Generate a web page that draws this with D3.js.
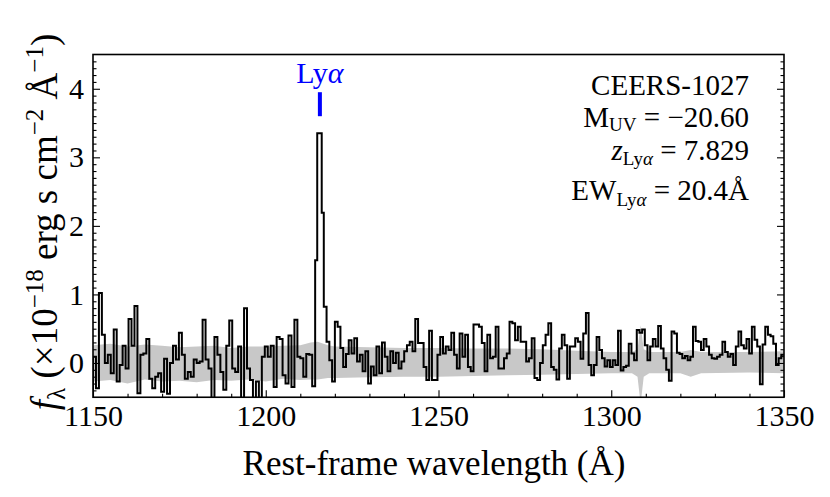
<!DOCTYPE html>
<html><head><meta charset="utf-8">
<script src="https://cdn.jsdelivr.net/npm/d3@7"></script>
<style>
body{margin:0;background:#fff}
svg text{font-family:"Liberation Serif","Times New Roman",serif !important;fill:#000}
</style>
</head><body>
<svg id="c" width="830" height="497"></svg>
<script>
// ---- data ----
const xTicks = [1150, 1200, 1250, 1300, 1350];
const yTicks = [0, 1, 2, 3, 4];
const xDomain = [1150, 1350];
const yDomain = [-0.5, 4.5];

// blue side of Lya: evenly spaced bins between rangeA
const rangeA = [1150.0, 1214.3];
const fluxA = [0.09,-0.37,1.02,0.41,0.00,0.12,-0.15,0.49,-0.27,-0.03,
  0.25,-0.08,0.64,0.25,0.83,-0.44,0.12,0.14,0.35,-0.23,
  -0.37,-0.20,-0.15,-0.42,0.06,-0.45,0.00,0.25,0.05,0.44,
  0.12,-0.23,-0.13,-0.20,0.05,0.00,0.02,0.63,0.05,-0.08,
  -0.55,0.38,0.12,-0.13,-0.39,0.25,0.62,-0.08,-0.13,0.24,
  -0.55,0.80,-0.08,-0.25,-0.55,-0.27,-0.55,0.09,0.24,0.09,
  0.25,-0.35,0.38,0.35,-0.18,-0.30,0.40,-0.35,0.63,0.09,
  0.07,-0.20,0.13,0.12,-0.34];

// Lya line bins (edges given explicitly)
const edgesPeak = [1214.3, 1214.9, 1216.2, 1216.8];
const fluxPeak = [1.50, 3.35, 2.19];

// red side, part 1
const rangeB = [1216.8, 1282.6];
const fluxB = [0.82,0.31,0.04,-0.27,0.60,0.53,0.22,-0.06,0.13,0.33,
  0.14,0.36,0.02,0.12,-0.12,0.17,-0.30,-0.05,-0.18,0.24,
  -0.15,0.30,0.09,-0.12,0.17,0.00,0.15,-0.08,0.02,0.17,
  0.26,0.31,0.17,0.64,0.29,0.29,-0.06,-0.25,0.47,-0.25,
  -0.25,0.12,0.38,0.14,0.24,0.19,0.44,0.12,-0.08,0.43,
  0.09,0.41,-0.06,-0.12,0.56,0.56,0.53,0.29,-0.12,0.41,
  0.07,0.09,0.53,-0.08,-0.08,0.07,0.14,0.60,0.58,0.33,
  0.53,0.31,0.31,0.02,0.07,0.36,-0.22,-0.25,0.00,0.26,
  0.41,0.58];

// red side, part 2
const rangeC = [1282.6, 1350.0];
const fluxC = [-0.06,-0.10,-0.24,0.21,0.41,0.26,-0.23,0.24,0.24,0.36,
  0.31,0.06,0.43,0.73,-0.03,-0.18,-0.03,0.38,0.19,0.07,
  -0.05,0.04,-0.06,0.04,-0.03,0.47,-0.11,-0.06,-0.04,0.28,
  0.14,0.04,0.48,0.44,0.49,0.26,0.04,0.24,0.35,0.24,
  0.54,0.21,0.07,-0.10,-0.26,0.46,0.43,0.15,0.13,0.07,
  0.10,0.04,0.09,0.53,0.32,0.31,0.19,0.35,0.24,0.12,
  0.07,0.06,0.09,0.12,0.31,0.16,0.09,0.13,-0.03,0.24,
  0.46,0.26,0.21,0.35,0.14,0.53,0.34,0.24,-0.31,0.27,
  0.53,0.41,0.39,0.28,-0.03,0.07,0.12];

// 1-sigma error band nodes
const errLam = [1150,1155,1160,1165,1170,1175,1180,1185,1190,1195,1200,1205,1210,1213,1215,1218,1220,1230,1240,1250,1260,1270,1280,1290,1300,1306,1307.6,1308.5,1309.4,1311,1320,1323,1326,1340,1350];
const errLo  = [-0.27,-0.25,-0.30,-0.24,-0.27,-0.26,-0.28,-0.25,-0.26,-0.24,-0.27,-0.23,-0.25,-0.24,-0.24,-0.22,-0.22,-0.21,-0.20,-0.20,-0.19,-0.18,-0.17,-0.16,-0.15,-0.15,-0.20,-0.60,-0.20,-0.15,-0.15,-0.20,-0.15,-0.14,-0.15];
const errHi  = [0.26,0.28,0.24,0.27,0.25,0.23,0.24,0.25,0.22,0.24,0.24,0.25,0.26,0.30,0.31,0.26,0.24,0.23,0.22,0.22,0.21,0.21,0.20,0.18,0.16,0.16,0.20,0.55,0.20,0.16,0.16,0.19,0.16,0.16,0.17];

const lyaLam = 1215.67;
const lyaBar = [3.6, 3.95];

// ---- drawing ----
const M = {l: 93, r: 784, t: 54.5, b: 397.25};
const svg = d3.select('#c');
const x = d3.scaleLinear().domain(xDomain).range([M.l, M.r]);
const y = d3.scaleLinear().domain(yDomain).range([M.b, M.t]);
const FONT = '"Liberation Serif","Times New Roman",serif';

svg.append('defs').append('clipPath').attr('id','clip')
  .append('rect').attr('x',M.l).attr('y',M.t).attr('width',M.r-M.l).attr('height',M.b-M.t);

// build bins
const bins = [];
function addEven(range, vals){
  const dw = (range[1]-range[0])/vals.length;
  vals.forEach((v,i)=>bins.push({x0:range[0]+i*dw, x1:range[0]+(i+1)*dw, v}));
}
addEven(rangeA, fluxA);
fluxPeak.forEach((v,i)=>bins.push({x0:edgesPeak[i], x1:edgesPeak[i+1], v}));
addEven(rangeB, fluxB);
addEven(rangeC, fluxC);
const pts = [];
pts.push([bins[0].x0, -1]);
bins.forEach(b=>{pts.push([b.x0,b.v]); pts.push([b.x1,b.v]);});

const g = svg.append('g').attr('clip-path','url(#clip)');
const errData = errLam.map((l,i)=>({l, lo:errLo[i], hi:errHi[i]}));
g.append('path').datum(errData)
  .attr('d', d3.area().x(d=>x(d.l)).y0(d=>y(d.lo)).y1(d=>y(d.hi)))
  .attr('fill','#c8c8c8').attr('stroke','none');
g.append('path').datum(pts)
  .attr('d', d3.line().x(d=>x(d[0])).y(d=>y(d[1])))
  .attr('fill','none').attr('stroke','#000').attr('stroke-width',2).attr('stroke-linejoin','miter');

// axes
const fontTick = 30;
const xMinor = d3.range(1150,1351,10).filter(v=>v%50!==0);
const yMinor = d3.range(-4,45,1).map(v=>v/10).filter(v=>Math.abs(v-Math.round(v))>1e-6);

function styleAxis(sel){
  sel.attr('font-family', FONT);
  sel.select('.domain').remove();
  sel.selectAll('line').attr('stroke','#000').attr('stroke-width',1.1);
  sel.selectAll('text').style('font-size',fontTick+'px').attr('fill','#000');
}
svg.append('g').attr('transform',`translate(0,${M.b})`)
  .call(d3.axisBottom(x).tickValues(xTicks).tickSizeInner(-7).tickSizeOuter(0).tickPadding(7).tickFormat(d3.format('d')))
  .call(styleAxis);
svg.append('g').attr('transform',`translate(0,${M.b})`)
  .call(d3.axisBottom(x).tickValues(xMinor).tickSizeInner(-3.5).tickSizeOuter(0).tickFormat(''))
  .call(styleAxis);
svg.append('g').attr('transform',`translate(${M.l},0)`)
  .call(d3.axisLeft(y).tickValues(yTicks).tickSizeInner(-7).tickSizeOuter(0).tickPadding(9).tickFormat(d3.format('d')))
  .call(styleAxis);
svg.append('g').attr('transform',`translate(${M.l},0)`)
  .call(d3.axisLeft(y).tickValues(yMinor).tickSizeInner(-3.5).tickSizeOuter(0).tickFormat(''))
  .call(styleAxis);
svg.append('g').attr('transform',`translate(${M.r},0)`)
  .call(d3.axisRight(y).tickValues(yTicks).tickSizeInner(-7).tickSizeOuter(0).tickFormat(''))
  .call(styleAxis);
svg.append('g').attr('transform',`translate(${M.r},0)`)
  .call(d3.axisRight(y).tickValues(yMinor).tickSizeInner(-3.5).tickSizeOuter(0).tickFormat(''))
  .call(styleAxis);

svg.append('rect').attr('x',M.l).attr('y',M.t).attr('width',M.r-M.l).attr('height',M.b-M.t)
  .attr('fill','none').attr('stroke','#000').attr('stroke-width',1.6);

// axis labels
svg.append('text').attr('x',434).attr('y',475).attr('text-anchor','middle').attr('font-family',FONT)
  .style('font-size','35px').text('Rest-frame wavelength (Å)');

const yl = svg.append('text').attr('transform',`translate(57,222) rotate(-90)`).attr('font-family',FONT)
  .attr('text-anchor','middle').style('font-size','37px');
yl.append('tspan').style('font-style','italic').text('f');
yl.append('tspan').attr('dy',8).style('font-size','25px').text('λ');
yl.append('tspan').attr('dy',-8).text(' (×10');
yl.append('tspan').attr('dy',-14).style('font-size','25px').text('−18');
yl.append('tspan').attr('dy',14).text(' erg s cm');
yl.append('tspan').attr('dy',-14).style('font-size','25px').text('−2');
yl.append('tspan').attr('dy',14).text(' Å');
yl.append('tspan').attr('dy',-14).style('font-size','25px').text('−1');
yl.append('tspan').attr('dy',14).text(')');

// Lya marker
const lx = x(lyaLam);
svg.append('line').attr('x1',lx).attr('x2',lx).attr('y1',y(lyaBar[0])).attr('y2',y(lyaBar[1]))
  .attr('stroke','#0000ff').attr('stroke-width',4);
const lt = svg.append('text').attr('x',lx).attr('y',83).attr('text-anchor','middle').attr('font-family',FONT)
  .style('font-size','30px').style('fill','#0000ff');
lt.append('tspan').style('fill','#0000ff').text('Ly');
lt.append('tspan').style('fill','#0000ff').style('font-style','italic').text('α');

// annotations
const ax = 749, fs = '29px', fsub = '19px';
svg.append('text').attr('x',ax).attr('y',95).attr('text-anchor','end').attr('font-family',FONT).style('font-size',fs).text('CEERS-1027');
const t2 = svg.append('text').attr('x',ax).attr('y',127).attr('text-anchor','end').attr('font-family',FONT).style('font-size',fs);
t2.append('tspan').text('M');
t2.append('tspan').attr('dy',4).style('font-size',fsub).text('UV');
t2.append('tspan').attr('dy',-4).text(' = −20.60');
const t3 = svg.append('text').attr('x',ax).attr('y',160).attr('text-anchor','end').attr('font-family',FONT).style('font-size',fs);
t3.append('tspan').style('font-style','italic').text('z');
t3.append('tspan').attr('dy',5).style('font-size',fsub).text('Ly');
t3.append('tspan').style('font-size',fsub).style('font-style','italic').text('α');
t3.append('tspan').attr('dy',-5).text(' = 7.829');
const t4 = svg.append('text').attr('x',ax).attr('y',200).attr('text-anchor','end').attr('font-family',FONT).style('font-size',fs);
t4.append('tspan').text('EW');
t4.append('tspan').attr('dy',6).style('font-size',fsub).text('Ly');
t4.append('tspan').style('font-size',fsub).style('font-style','italic').text('α');
t4.append('tspan').attr('dy',-6).text(' = 20.4Å');
</script>
</body></html>
